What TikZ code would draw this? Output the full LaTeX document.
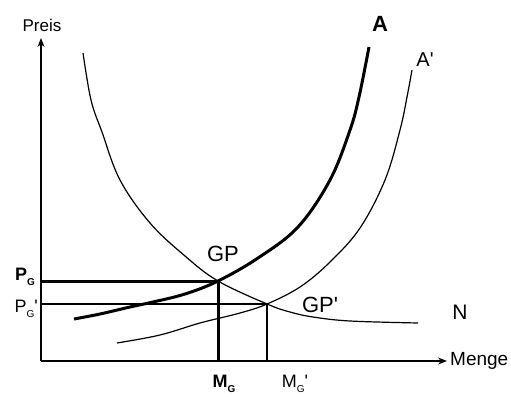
\documentclass[tikz,border=0pt]{standalone}
\usepackage{fontspec}
\setmainfont{Liberation Sans}
\usetikzlibrary{arrows.meta}

\begin{document}
\begin{tikzpicture}[
        x=1pt, y=-1pt,
        axis/.style={line width=1.4pt, -{Stealth[length=9pt, width=7pt]}},
        curve/.style={line width=1.2pt},
        thickcurve/.style={line width=3pt},
        lbl/.style={inner sep=0pt, font=\fontsize{#1}{#1}\selectfont},
    ]
        \useasboundingbox (0,0) rectangle (511,396);
        % axes
        \coordinate (O) at (41,361);
        \coordinate (ytop) at (41,38);
        \coordinate (xend) at (447,361);
        \draw[axis] (O) -- (ytop);
        \draw[axis] (O) -- (xend);
        \node[lbl=17] (preis) at (42,25) {Preis};
        \node[lbl=19, anchor=west] (menge) at (450,361) {Menge};
        % equilibria
        \coordinate (GP) at (218,281);
        \coordinate (GPs) at (267,304);
        \coordinate (PG) at (41,281);
        \coordinate (PGs) at (41,304);
        \coordinate (MG) at (218,361);
        \coordinate (MGs) at (267,361);
        \draw[thickcurve] (PG) -- (GP) -- (MG);
        \draw[curve] (PGs) -- (GPs) -- (MGs);
        % demand N
        \draw[curve] plot[smooth, tension=0.6] coordinates {(83,53) (91,100) (102,132) (120,180) (150,223) (185,256) (GP) (GPs) (290,312) (313,317) (350,321) (418,323)};
        % supply A and A'
        \draw[thickcurve] plot[smooth, tension=0.6] coordinates {(74,319) (100,314) (130,307) (153,302) (185,294) (GP) (258,258) (298,227) (330,180) (350,130) (359,97) (369,47)};
        \draw[curve] plot[smooth, tension=0.6] coordinates {(117,343) (160,335) (200,323) (240,313) (GPs) (300,287) (330,262) (360,228) (385,180) (400,130) (407,97) (412,70)};
        % labels
        \node[lbl=22] (gp) at (223,254) {GP};
        \node[lbl=22] (gps) at (320,305) {GP\textquotesingle};
        \node[lbl=21] (n) at (460,312) {N};
        \node[lbl=22] (a) at (380,24) {\bfseries A};
        \node[lbl=20] (as) at (425,60) {A\textquotesingle};
        \node[lbl=18, anchor=east] (pg) at (35,277) {\bfseries P\raisebox{-5pt}{\fontsize{10}{10}\selectfont G}};
        \node[lbl=18, anchor=east] (pgs) at (38,309) {P\raisebox{-5pt}{\fontsize{10}{10}\selectfont G}\textquotesingle};
        \node[lbl=18] (mg) at (224,384) {\bfseries M\raisebox{-5pt}{\fontsize{10}{10}\selectfont G}};
        \node[lbl=18] (mgs) at (295,384) {M\raisebox{-5pt}{\fontsize{10}{10}\selectfont G}\textquotesingle};
\end{tikzpicture}
\end{document}
